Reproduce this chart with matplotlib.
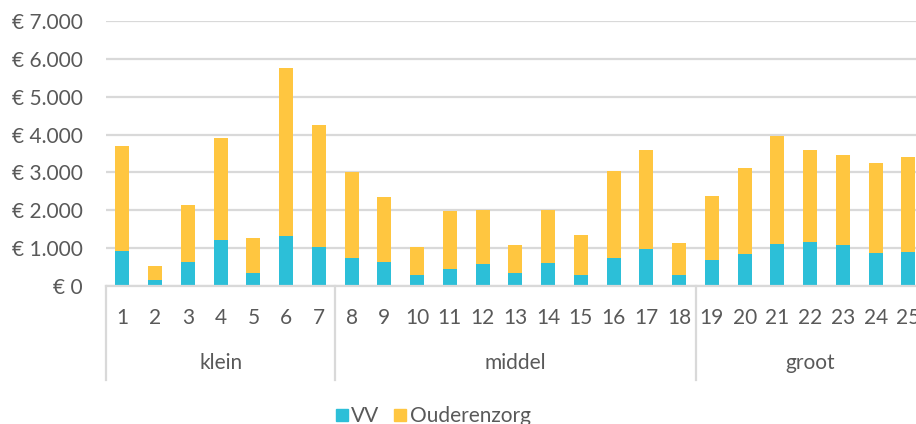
import matplotlib
matplotlib.use("Agg")
import matplotlib.pyplot as plt
from matplotlib.patches import Rectangle
from matplotlib.lines import Line2D
import numpy as np

plt.rcParams['font.family'] = ['Lato', 'DejaVu Sans']

categories = [str(i) for i in range(1, 26)]
groups = ["klein", "middel", "groot"]
group_sizes = [7, 11, 7]
totals = [3690, 530, 2140, 3920, 1260, 5760, 4250,
          3020, 2340, 1040, 1990, 2000, 1090, 2020, 1360, 3040, 3600, 1140,
          2390, 3110, 3950, 3590, 3460, 3250, 3400]
vv = [920, 170, 640, 1210, 340, 1310, 1040,
      750, 630, 280, 460, 570, 340, 600, 300, 750, 990, 300,
      700, 850, 1120, 1170, 1080, 880, 910]
ouderenzorg = [t - v for t, v in zip(totals, vv)]
yticks = [0, 1000, 2000, 3000, 4000, 5000, 6000, 7000]
ytick_labels = ["€ 0", "€ 1.000", "€ 2.000", "€ 3.000", "€ 4.000", "€ 5.000", "€ 6.000", "€ 7.000"]
series_names = ["VV", "Ouderenzorg"]

TEAL = "#2CBFD8"
YELLOW = "#FFC640"
TEXT = "#595959"
GRID = "#D9D9D9"

W, H = 916, 424
fig = plt.figure(figsize=(W / 100, H / 100), dpi=100)
left_px, right_px, top_px, base_px = 106, 106 + 25 * 32.75, 21, 286
ax = fig.add_axes([left_px / W, 1 - base_px / H, (right_px - left_px) / W, (base_px - top_px) / H])

x = np.arange(len(categories))
ax.bar(x, vv, width=0.42, color=TEAL, linewidth=0, zorder=3)
ax.bar(x, ouderenzorg, bottom=vv, width=0.42, color=YELLOW, linewidth=0, zorder=3)

ax.set_xlim(-0.5, len(categories) - 0.5)
ax.set_ylim(0, 7000)
ax.set_yticks(yticks)
ax.set_yticklabels(ytick_labels, fontsize=15, color=TEXT)
ax.tick_params(axis='y', length=0, pad=17)
ax.set_xticks([])
for s in ["left", "right", "top"]:
    ax.spines[s].set_visible(False)
ax.spines["bottom"].set_color(GRID)
ax.spines["bottom"].set_linewidth(1.6)
ax.spines["bottom"].set_zorder(4)
ax.yaxis.grid(True, color=GRID, linewidth=1.6, zorder=0)
ax.set_axisbelow(True)

# category labels
trans = ax.get_xaxis_transform()
y_num = -(318 - base_px) / (base_px - top_px)
y_grp = -(363 - base_px) / (base_px - top_px)
y_sep = -(380 - base_px) / (base_px - top_px)
for xi, c in zip(x, categories):
    ax.text(xi, y_num, c, transform=trans, ha="center", va="center", fontsize=15, color=TEXT, clip_on=False)

start = 0
seps = [-0.5]
for g, n in zip(groups, group_sizes):
    center = start + (n - 1) / 2
    ax.text(center, y_grp, g, transform=trans, ha="center", va="center", fontsize=15, color=TEXT, clip_on=False)
    start += n
    seps.append(start - 0.5)
for sx in seps:
    ax.add_line(Line2D([sx, sx], [0, y_sep], transform=trans, color=GRID, linewidth=1.6, clip_on=False))

# legend
def px_rect(x0, y0, w, h, color):
    fig.patches.append(Rectangle((x0 / W, 1 - (y0 + h) / H), w / W, h / H, transform=fig.transFigure, color=color))

px_rect(336, 409, 11.5, 11.5, TEAL)
fig.text(351 / W, 1 - 416 / H, series_names[0], ha="left", va="center", fontsize=15, color=TEXT)
px_rect(394, 409, 11.5, 11.5, YELLOW)
fig.text(410 / W, 1 - 416 / H, series_names[1], ha="left", va="center", fontsize=15, color=TEXT)

fig.savefig("out.png", dpi=100)
